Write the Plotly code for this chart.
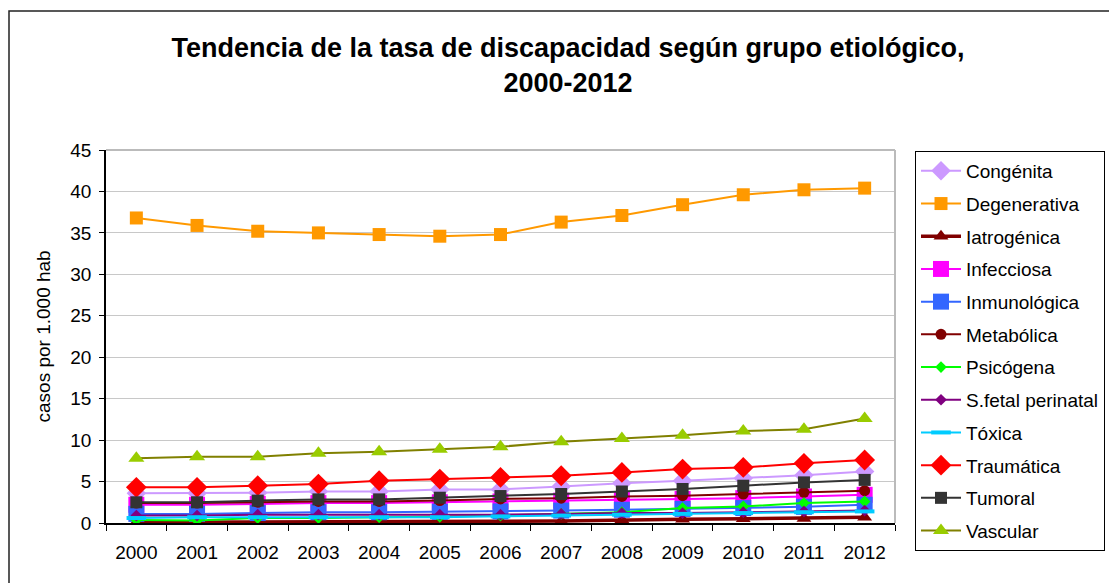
import plotly.graph_objects as go

# Data (casos por 1.000 hab)
years = [str(y) for y in range(2000, 2013)]

congenita = [3.6, 3.6, 3.65, 3.8, 3.8, 4.05, 4.05, 4.4, 4.8, 5.1, 5.4, 5.75, 6.2]
degenerativa = [36.8, 35.9, 35.2, 35.0, 34.8, 34.6, 34.8, 36.3, 37.1, 38.4, 39.6, 40.2, 40.4]
iatrogenica = [0.1, 0.1, 0.2, 0.2, 0.2, 0.2, 0.2, 0.25, 0.4, 0.45, 0.5, 0.55, 0.7]
infecciosa = [2.2, 2.2, 2.3, 2.4, 2.4, 2.5, 2.6, 2.7, 2.8, 2.9, 3.0, 3.2, 3.4]
inmunologica = [1.1, 1.1, 1.2, 1.3, 1.3, 1.35, 1.4, 1.5, 1.6, 1.7, 1.8, 1.95, 2.2]
metabolica = [2.4, 2.4, 2.5, 2.6, 2.6, 2.7, 2.9, 3.0, 3.2, 3.3, 3.5, 3.7, 3.9]
psicogena = [0.35, 0.3, 0.6, 0.6, 0.7, 0.75, 0.9, 1.1, 1.3, 1.8, 2.0, 2.4, 2.6]
sfetal = [0.9, 0.9, 1.0, 1.0, 1.0, 1.0, 1.0, 1.1, 1.2, 1.2, 1.3, 1.4, 1.5]
toxica = [0.6, 0.7, 0.7, 0.7, 0.7, 0.7, 0.8, 0.9, 1.0, 1.1, 1.2, 1.3, 1.4]
traumatica = [4.3, 4.3, 4.5, 4.7, 5.1, 5.3, 5.5, 5.7, 6.1, 6.5, 6.7, 7.2, 7.6]
tumoral = [2.5, 2.5, 2.7, 2.85, 2.85, 3.05, 3.25, 3.5, 3.8, 4.1, 4.5, 4.9, 5.2]
vascular = [7.8, 8.0, 8.0, 8.4, 8.6, 8.9, 9.2, 9.8, 10.2, 10.6, 11.1, 11.3, 12.6]

y_ticks = [0, 5, 10, 15, 20, 25, 30, 35, 40, 45]

font_family = 'Liberation Sans, Arial, sans-serif'

# name, values, line color, line width, marker symbol, marker color, marker size
series = [
    ('Congénita', congenita, '#CC99FF', 2, 'diamond', '#CC99FF', 15),
    ('Degenerativa', degenerativa, '#FF9900', 2, 'square', '#FF9900', 13),
    ('Iatrogénica', iatrogenica, '#800000', 3.5, 'triangle-up', '#800000', 13),
    ('Infecciosa', infecciosa, '#FF00FF', 2, 'square', '#FF00FF', 16),
    ('Inmunológica', inmunologica, '#3366FF', 2, 'square', '#3366FF', 16),
    ('Metabólica', metabolica, '#800000', 2, 'circle', '#800000', 11),
    ('Psicógena', psicogena, '#00FF00', 2, 'diamond', '#00FF00', 9),
    ('S.fetal perinatal', sfetal, '#800080', 2, 'diamond', '#800080', 9),
    ('Tóxica', toxica, '#00CCFF', 2, 'line-ew', '#00CCFF', 14),
    ('Traumática', traumatica, '#FF0000', 2, 'diamond', '#FF0000', 16),
    ('Tumoral', tumoral, '#333333', 2, 'square', '#333333', 12),
    ('Vascular', vascular, '#808000', 2, 'triangle-up', '#99CC00', 14),
]

fig = go.Figure()

for name, vals, lc, lw, sym, mc, ms in series:
    marker = dict(symbol=sym, color=mc, size=ms)
    if sym == 'line-ew':
        marker['line'] = dict(color=mc, width=4)
    fig.add_trace(go.Scatter(
        x=years, y=vals, name=name, legendgroup=name,
        mode='lines+markers',
        line=dict(color=lc, width=lw),
        marker=marker,
    ))

fig.update_layout(
    width=1109, height=583,
    paper_bgcolor='white', plot_bgcolor='white',
    margin=dict(l=106, r=214, t=150, b=60),
    font=dict(family=font_family, size=18, color='black'),
    title=dict(
        text='<b>Tendencia de la tasa de discapacidad según grupo etiológico,<br>2000-2012</b>',
        x=568 / 1109, xanchor='center', xref='container',
        y=1 - 57 / 583, yanchor='top', yref='container',
        font=dict(size=27, family=font_family),
    ),
    legend=dict(
        x=915 / 1109, xanchor='left', xref='container',
        y=1 - 151 / 583, yanchor='top', yref='container',
        bordercolor='black', borderwidth=1,
        font=dict(size=19, family=font_family),
        tracegroupgap=5,
        itemwidth=40,
        traceorder='grouped',
        maxheight=500,
    ),
    showlegend=True,
)

fig.update_xaxes(
    type='category', tickson='boundaries', range=[-0.5, 12.5],
    showline=True, linecolor='black', linewidth=1.5,
    ticks='outside', ticklen=6, tickcolor='black',
    showgrid=False, mirror=False,
    ticklabelstandoff=11,
    tickfont=dict(size=19),
)
fig.update_yaxes(
    range=[0, 45], tickvals=y_ticks,
    showline=True, linecolor='black', linewidth=1.5,
    ticks='outside', ticklen=5, tickcolor='black',
    showgrid=True, gridcolor='#C8C8C8', gridwidth=1,
    zeroline=False,
    ticklabelstandoff=4,
    tickfont=dict(size=19),
)

# gray border on top and right of plot area
fig.add_shape(type='line', xref='paper', yref='paper', x0=0, x1=1, y0=1, y1=1,
              line=dict(color='#BBBBBB', width=2))
fig.add_shape(type='line', xref='paper', yref='paper', x0=1, x1=1, y0=0, y1=1,
              line=dict(color='#BBBBBB', width=2))

# outer chart frame
fig.add_shape(type='rect', xref='paper', yref='paper',
              x0=(9 - 106) / 789, x1=1.5, y0=-1, y1=(523 - 11) / 373,
              line=dict(color='#222222', width=1.5))

# y axis title
fig.add_annotation(
    text='casos por 1.000 hab', textangle=-90,
    xref='paper', yref='paper', x=(43 - 106) / 789, y=0.5,
    xanchor='center', yanchor='middle', showarrow=False,
    font=dict(size=19, family=font_family),
)

fig.write_html("out.html", config={'displayModeBar': False},
               post_script="document.body.style.margin='0';")
